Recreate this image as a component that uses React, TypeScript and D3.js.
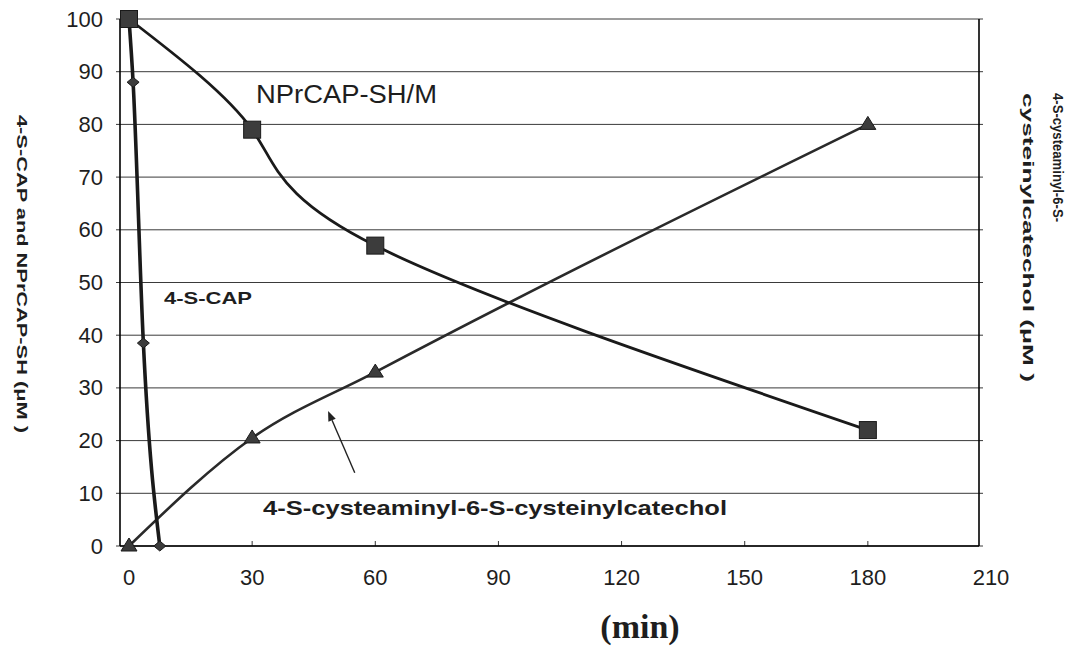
import * as d3 from 'd3';

// axis ticks
const xTicks = [0, 30, 60, 90, 120, 150, 180, 210];
const yTicks = [0, 10, 20, 30, 40, 50, 60, 70, 80, 90, 100];

// NPrCAP-SH/M (squares)
const nprTime = [0, 30, 60, 180];
const nprValues = [100, 79, 57, 22];

// 4-S-CAP (diamonds)
const capTime = [0, 1, 3.5, 7.5];
const capValues = [100, 88, 38.5, 0];

// 4-S-cysteaminyl-6-S-cysteinylcatechol (triangles)
const cysTime = [0, 30, 60, 180];
const cysValues = [0, 20.5, 33, 80];

const W = 1072;
const H = 649;
const LEFT = 120;
const RIGHT = 979;
const TOP = 19;
const BOTTOM = 546;

const sans = '"Liberation Sans", Arial, sans-serif';
const ink = '#1e1e1e';

export default function App() {
    const x = d3.scaleLinear().domain([0, 210]).range([129, 991]);
    const y = d3.scaleLinear().domain([0, 100]).range([BOTTOM, TOP]);

    const pts = (ts: number[], vs: number[]) => ts.map((t, i) => [t, vs[i]] as [number, number]);

    const nprLine = d3
        .line<[number, number]>()
        .x((d) => x(d[0]))
        .y((d) => y(d[1]))
        .curve(d3.curveNatural)(pts(nprTime, nprValues)) ?? '';
    const cysLine = d3
        .line<[number, number]>()
        .x((d) => x(d[0]))
        .y((d) => y(d[1]))
        .curve(d3.curveMonotoneX)(pts(cysTime, cysValues)) ?? '';
    const capLine = d3
        .line<[number, number]>()
        .x((d) => x(d[0]))
        .y((d) => y(d[1]))
        .curve(d3.curveMonotoneX)(pts(capTime, capValues)) ?? '';

    // arrow annotation, in data units
    const arrowHead = [48.5, 25.6];
    const arrowTail = [55, 13.9];
    const hx = x(arrowHead[0]);
    const hy = y(arrowHead[1]);
    const tx = x(arrowTail[0]);
    const ty = y(arrowTail[1]);
    const ang = Math.atan2(hy - ty, hx - tx);
    const aLen = 10;
    const aW = 4;
    const bx = hx - aLen * Math.cos(ang);
    const by = hy - aLen * Math.sin(ang);
    const head = `M${hx},${hy}L${bx + aW * Math.sin(ang)},${by - aW * Math.cos(ang)}L${bx - aW * Math.sin(ang)},${by + aW * Math.cos(ang)}Z`;

    return (
        <svg
            width={W}
            height={H}
            viewBox={`0 0 ${W} ${H}`}
            style={{ position: 'absolute', left: 0, top: 0, background: '#fff' }}
        >
            <rect width={W} height={H} fill="#fff" />

            {/* gridlines */}
            {yTicks.map((v) => (
                <g key={v}>
                    <line x1={LEFT} x2={RIGHT} y1={y(v)} y2={y(v)} stroke="#3a3a3a" strokeWidth={1} />
                    <line x1={LEFT - 4} x2={LEFT} y1={y(v)} y2={y(v)} stroke="#3a3a3a" strokeWidth={1} />
                    <line x1={RIGHT} x2={RIGHT + 4} y1={y(v)} y2={y(v)} stroke="#3a3a3a" strokeWidth={1} />
                    <text
                        x={103}
                        y={y(v)}
                        textAnchor="end"
                        dominantBaseline="central"
                        fontFamily={sans}
                        fontSize={22}
                        fill={ink}
                    >
                        {v}
                    </text>
                </g>
            ))}

            {/* x ticks */}
            {xTicks.map((t) => (
                <g key={t}>
                    {t > 0 && t < 210 && (
                        <line x1={x(t)} x2={x(t)} y1={BOTTOM} y2={BOTTOM - 5} stroke="#333" strokeWidth={1} />
                    )}
                    <text x={x(t)} y={585} textAnchor="middle" fontFamily={sans} fontSize={22} fill={ink}>
                        {t}
                    </text>
                </g>
            ))}

            {/* frame */}
            <line x1={LEFT} x2={LEFT} y1={TOP} y2={BOTTOM} stroke="#000" strokeWidth={1.6} />
            <line x1={RIGHT} x2={RIGHT} y1={TOP} y2={BOTTOM} stroke="#000" strokeWidth={1.6} />
            <line x1={LEFT} x2={RIGHT} y1={BOTTOM} y2={BOTTOM} stroke="#000" strokeWidth={1.6} />

            {/* series lines */}
            <path d={cysLine} fill="none" stroke="#2a2a2a" strokeWidth={2.6} />
            <path d={nprLine} fill="none" stroke="#1a1a1a" strokeWidth={2.8} />
            <path d={capLine} fill="none" stroke="#1a1a1a" strokeWidth={3.6} />

            {/* markers */}
            {cysTime.map((t, i) => (
                <path
                    key={`c${i}`}
                    d="M0,-8L8,5L-8,5Z"
                    transform={`translate(${x(t)},${y(cysValues[i])})`}
                    fill="#3c3c3c"
                    stroke="#1a1a1a"
                    strokeWidth={1}
                />
            ))}
            {capTime.map((t, i) => (
                <path
                    key={`d${i}`}
                    d="M0,-5L6,0L0,5L-6,0Z"
                    transform={`translate(${x(t)},${y(capValues[i])})`}
                    fill="#3c3c3c"
                    stroke="#1a1a1a"
                    strokeWidth={1}
                />
            ))}
            {nprTime.map((t, i) => (
                <rect
                    key={`s${i}`}
                    x={x(t) - 8.5}
                    y={y(nprValues[i]) - 8.5}
                    width={17}
                    height={17}
                    fill="#3c3c3c"
                    stroke="#1a1a1a"
                    strokeWidth={1}
                />
            ))}

            {/* annotations */}
            <text x={256} y={103} fontFamily={sans} fontSize={26} textLength={181} lengthAdjust="spacingAndGlyphs" fill={ink}>
                NPrCAP-SH/M
            </text>
            <text x={164} y={304} fontFamily={sans} fontWeight="bold" fontSize={17} textLength={88} lengthAdjust="spacingAndGlyphs" fill={ink}>
                4-S-CAP
            </text>
            <text x={263} y={515} fontFamily={sans} fontWeight="bold" fontSize={21} textLength={464} lengthAdjust="spacingAndGlyphs" fill={ink}>
                4-S-cysteaminyl-6-S-cysteinylcatechol
            </text>
            <line x1={tx} y1={ty} x2={bx} y2={by} stroke="#222" strokeWidth={1.4} />
            <path d={head} fill="#222" />

            {/* axis titles */}
            <text
                transform="translate(22,274) rotate(90)"
                textAnchor="middle"
                dominantBaseline="central"
                fontFamily={sans}
                fontWeight="bold"
                fontSize={14}
                textLength={318}
                lengthAdjust="spacingAndGlyphs"
                fill={ink}
            >
                4-S-CAP and NPrCAP-SH (μM )
            </text>
            <text
                transform="translate(1058,93) rotate(90)"
                dominantBaseline="central"
                fontFamily={sans}
                fontWeight="bold"
                fontSize={14}
                textLength={129}
                lengthAdjust="spacingAndGlyphs"
                fill={ink}
            >
                4-S-cysteaminyl-6-S-
            </text>
            <text
                transform="translate(1028,93) rotate(90)"
                dominantBaseline="central"
                fontFamily={sans}
                fontWeight="bold"
                fontSize={14}
                textLength={289}
                lengthAdjust="spacingAndGlyphs"
                fill={ink}
            >
                cysteinylcatechol (μM )
            </text>
            <text
                x={640}
                y={638}
                textAnchor="middle"
                fontFamily='"Liberation Serif", "DejaVu Serif", serif'
                fontWeight="bold"
                fontSize={34}
                fill={ink}
            >
                (min)
            </text>
        </svg>
    );
}
